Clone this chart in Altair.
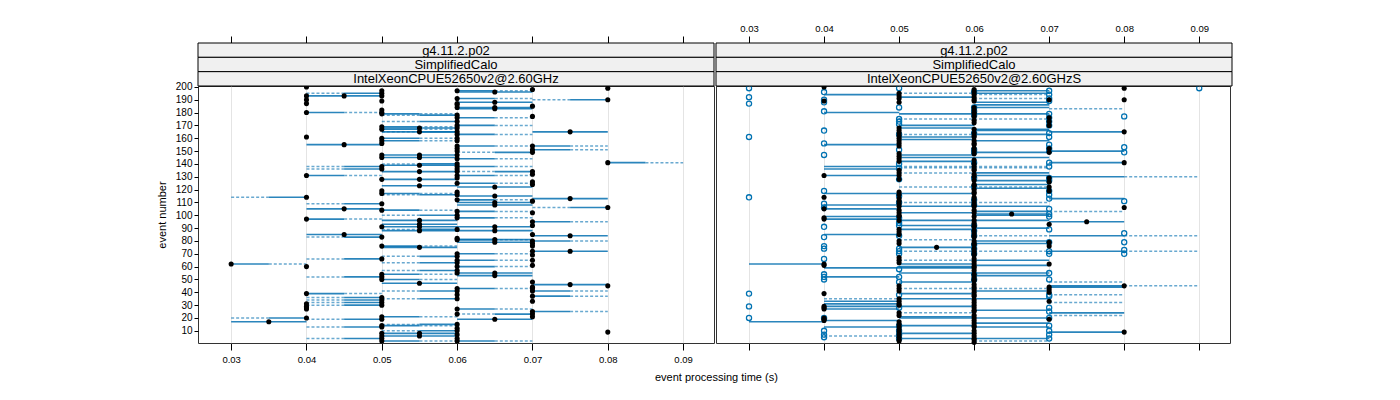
import altair as alt
import pandas as pd

FONT = "Liberation Sans"
X_TICKS = [0.03, 0.04, 0.05, 0.06, 0.07, 0.08, 0.09]
Y_TICKS = [10, 20, 30, 40, 50, 60, 70, 80, 90, 100, 110, 120, 130, 140, 150, 160, 170, 180, 190, 200]
STRIPS_LEFT = ["g4.11.2.p02", "SimplifiedCalo", "IntelXeonCPUE52650v2@2.60GHz"]
STRIPS_RIGHT = ["g4.11.2.p02", "SimplifiedCalo", "IntelXeonCPUE52650v2@2.60GHzS"]

# ---- left panel: (event number, segment direction) per time column ----
# direction: R = solid half to the right then dashed, L = same to the left,
#            S = solid span centred on the point, '' = no segment
L_030 = [(62, 'R')]
L_035 = [(17, 'S')]
L_040 = [(200, ''), (193, ''), (190, ''), (187, ''), (180, 'R'), (161, ''), (131, 'R'), (114, 'L'),
         (97, 'R'), (60, ''), (39, 'R'), (31, ''), (29, ''), (28, ''), (27, ''), (20, 'L')]
L_045 = [(193, 'S'), (155, 'S'), (105, 'S'), (85, 'S')]
L_050 = [(197, ''), (195, 'L'), (193, ''), (189, ''), (182, ''), (180, ''), (179, 'R'), (169, 'R'),
         (167, 'R'), (160, 'R'), (158, 'R'), (156, ''), (147, ''), (145, ''), (138, 'L'), (136, 'L'),
         (128, ''), (119, ''), (117, 'R'), (109, 'L'), (104, 'R'), (91, ''), (83, 'L'), (76, 'R'),
         (66, 'L'), (54, 'R'), (52, 'L'), (50, 'R'), (36, 'L'), (34, 'L'), (32, 'L'), (30, 'L'),
         (21, 'R'), (19, 'L'), (14, 'R'), (13, 'L'), (8, ''), (6, ''), (4, 'L'), (2, 'R')]
L_055 = [(168, 'S'), (165, 'S'), (147, 'S'), (145, 'S'), (139, 'S'), (134, 'S'), (128, 'S'), (123, 'S'),
         (96, 'S'), (93, 'S'), (91, 'S'), (88, 'S'), (75, 'S'), (47, 'S'), (8, 'S'), (6, 'S')]
L_060 = [(197, 'R'), (191, 'R'), (187, ''), (186, ''), (184, ''), (178, 'L'), (176, 'R'), (173, 'L'),
         (170, 'R'), (168, ''), (165, 'L'), (163, 'R'), (160, ''), (158, ''), (154, 'R'), (152, ''),
         (150, ''), (147, ''), (144, 'R'), (140, 'L'), (138, 'R'), (136, ''), (134, ''), (131, 'R'),
         (129, ''), (125, 'R'), (118, ''), (116, 'L'), (112, 'R'), (103, 'R'), (100, 'L'), (98, 'R'),
         (89, 'L'), (82, ''), (81, 'R'), (70, 'R'), (68, 'L'), (65, 'R'), (63, 'L'), (60, 'R'),
         (57, 'L'), (55, ''), (43, 'R'), (41, 'L'), (38, ''), (35, 'L'), (27, 'R'), (23, ''),
         (15, 'L'), (12, ''), (10, 'L'), (7, ''), (4, ''), (2, 'R')]
L_065 = [(196, 'S'), (188, 'S'), (184, 'S'), (183, 'S'), (122, 'S'), (115, 'S'), (110, 'S'), (108, 'S'),
         (91, 'S'), (88, 'S'), (81, 'S'), (79, 'S'), (55, 'S'), (53, 'S'), (19, 'S')]
L_070 = [(198, ''), (185, ''), (177, ''), (154, 'R'), (151, 'R'), (149, 'L'), (134, 'L'), (132, ''),
         (126, ''), (124, ''), (111, ''), (102, ''), (95, 'R'), (92, ''), (85, ''), (80, 'R'),
         (78, ''), (76, ''), (72, ''), (69, ''), (65, ''), (61, ''), (48, ''), (44, ''), (43, ''),
         (41, 'R'), (37, 'R'), (33, ''), (25, 'R'), (23, 'L'), (21, '')]
L_075 = [(165, 'S'), (113, 'S'), (84, 'S'), (72, 'S'), (46, 'S')]
L_080 = [(199, ''), (190, 'L'), (141, 'R'), (106, 'L'), (45, ''), (9, '')]
L_TIMES = [0.03, 0.035, 0.04, 0.045, 0.05, 0.055, 0.06, 0.065, 0.07, 0.075, 0.08]
L_COLUMNS = [L_030, L_035, L_040, L_045, L_050, L_055, L_060, L_065, L_070, L_075, L_080]

# ---- right panel: black filled points, blue open points, segments ----
R_BLACK_040 = [200, 189, 131, 114, 105, 98, 97, 62, 61, 39, 29, 28, 27, 20, 19, 18]
R_BLACK_050 = [195, 193, 191, 188, 168, 166, 164, 162, 160, 158, 156, 154, 148, 146, 144, 142, 135,
               133, 131, 128, 118, 116, 113, 111, 109, 107, 104, 102, 100, 99, 96, 89, 87, 85, 80, 78,
               67, 65, 63, 45, 43, 41, 35, 33, 31, 30, 24, 22, 17, 15, 13, 11, 9, 7, 5, 3, 2]
R_BLACK_055 = [75]
R_BLACK_060 = [198, 196, 194, 192, 190, 189, 184, 182, 180, 179, 177, 174, 172, 167, 164, 162, 161,
               158, 156, 155, 152, 150, 148, 143, 140, 138, 136, 135, 132, 130, 127, 124, 123, 120,
               118, 117, 114, 112, 110, 108, 107, 104, 102, 99, 96, 94, 92, 91, 88, 86, 84, 83, 80,
               78, 77, 74, 72, 70, 69, 66, 64, 62, 60, 59, 57, 54, 52, 50, 49, 46, 44, 42, 40, 38,
               37, 34, 32, 30, 28, 26, 25, 22, 20, 18, 16, 14, 13, 10, 8, 6, 4, 3, 1]
R_BLACK_065 = [101]
R_BLACK_070 = [190, 176, 173, 170, 152, 149, 129, 126, 122, 119, 93, 79, 76, 62, 44, 42, 40, 33, 19]
R_BLACK_075 = [95]
R_BLACK_080 = [199, 190, 165, 141, 106, 45, 9]
R_BLACK_TIMES = [0.04, 0.05, 0.055, 0.06, 0.065, 0.07, 0.075, 0.08]
R_BLACK_COLUMNS = [R_BLACK_040, R_BLACK_050, R_BLACK_055, R_BLACK_060, R_BLACK_065, R_BLACK_070,
                   R_BLACK_075, R_BLACK_080]

R_OPEN_030 = [199, 192, 187, 161, 114, 39, 29, 20]
R_OPEN_040 = [196, 190, 188, 181, 166, 156, 147, 119, 109, 106, 91, 83, 76, 74, 66, 54, 52, 50, 20,
              10, 7, 5]
R_OPEN_050 = [199, 184, 175, 173, 171, 163, 151, 140, 137, 128, 115, 110, 98, 94, 92, 84, 74, 72, 70,
              58, 52, 48, 38, 28, 14, 10, 7, 4]
R_OPEN_060 = [196, 184, 181, 178, 164, 151, 149, 141, 129, 122, 112, 108, 92, 88, 84, 77, 74, 70, 54, 50]
R_OPEN_070 = [197, 194, 191, 189, 179, 176, 173, 170, 164, 161, 155, 152, 150, 141, 138, 129, 127, 119,
              116, 113, 105, 101, 99, 89, 79, 72, 70, 55, 50, 38, 37, 28, 25, 20, 14, 10, 7, 4]
R_OPEN_080 = [177, 153, 149, 111, 86, 79, 73, 70]
R_OPEN_090 = [199]
R_OPEN_TIMES = [0.03, 0.04, 0.05, 0.06, 0.07, 0.08, 0.09]
R_OPEN_COLUMNS = [R_OPEN_030, R_OPEN_040, R_OPEN_050, R_OPEN_060, R_OPEN_070, R_OPEN_080, R_OPEN_090]

R_SEG_030_040_SOLID = [62, 17]
R_SEG_040_050_SOLID = [194, 180, 155, 138, 136, 131, 117, 108, 105, 99, 97, 85, 59, 52, 33, 31, 29,
                       27, 18, 13]
R_SEG_040_050_DASHED = [35, 6]
R_SEG_050_060_SOLID = [192, 179, 170, 168, 161, 159, 147, 145, 142, 117, 107, 102, 96, 92, 89, 75, 62,
                       60, 59, 55, 48, 39, 35, 29, 21, 20, 14, 8, 4]
R_SEG_050_060_DASHED = [195, 175, 163, 138, 137, 133, 122, 110, 81, 72, 65, 43, 24]
R_SEG_060_070_SOLID = [197, 195, 188, 186, 184, 179, 167, 166, 163, 158, 149, 145, 133, 131, 127, 124,
                       121, 107, 103, 101, 100, 96, 90, 80, 78, 65, 61, 55, 53, 41, 35, 26, 20, 16, 13, 4]
R_SEG_060_070_DASHED = [194, 191, 175, 138, 137, 122, 110, 84, 72, 43, 2]
R_SEG_070_080_SOLID = [165, 150, 141, 130, 113, 95, 84, 72, 45, 44, 24, 9]
R_SEG_070_080_DASHED = [183, 103, 48, 38, 32, 22]
R_SEG_080_090_DASHED = [130, 84, 72, 45]
R_SEG_GROUPS = [
    (0.03, 0.04, "solid", R_SEG_030_040_SOLID),
    (0.04, 0.05, "solid", R_SEG_040_050_SOLID),
    (0.04, 0.05, "dashed", R_SEG_040_050_DASHED),
    (0.05, 0.06, "solid", R_SEG_050_060_SOLID),
    (0.05, 0.06, "dashed", R_SEG_050_060_DASHED),
    (0.06, 0.07, "solid", R_SEG_060_070_SOLID),
    (0.06, 0.07, "dashed", R_SEG_060_070_DASHED),
    (0.07, 0.08, "solid", R_SEG_070_080_SOLID),
    (0.07, 0.08, "dashed", R_SEG_070_080_DASHED),
    (0.08, 0.09, "dashed", R_SEG_080_090_DASHED),
]

# ---------------- build tables ----------------
HALF = 0.005
left_pts, left_segs = [], []
for t, col in zip(L_TIMES, L_COLUMNS):
    for ev, d in col:
        left_pts.append({"event": ev, "time": t})
        if d == "R":
            left_segs.append({"event": ev, "x0": t, "x1": t + HALF, "style": "solid"})
            left_segs.append({"event": ev, "x0": t + HALF, "x1": t + 2 * HALF, "style": "dashed"})
        elif d == "L":
            left_segs.append({"event": ev, "x0": t - HALF, "x1": t, "style": "solid"})
            left_segs.append({"event": ev, "x0": t - 2 * HALF, "x1": t - HALF, "style": "dashed"})
        elif d == "S":
            left_segs.append({"event": ev, "x0": t - HALF, "x1": t + HALF, "style": "solid"})
left_pts = pd.DataFrame(left_pts)
left_segs = pd.DataFrame(left_segs)

right_black = pd.DataFrame([{"event": ev, "time": t}
                            for t, col in zip(R_BLACK_TIMES, R_BLACK_COLUMNS) for ev in col])
right_open = pd.DataFrame([{"event": ev, "time": t}
                           for t, col in zip(R_OPEN_TIMES, R_OPEN_COLUMNS) for ev in col])
right_segs = pd.DataFrame([{"event": ev, "x0": lo, "x1": hi, "style": st}
                           for lo, hi, st, evs in R_SEG_GROUPS for ev in evs])

# ---------------- chart ----------------
W, H = 516, 257
STRIP_H = 14.33
XSCALE = alt.Scale(domain=[0.0256, 0.0941], nice=False, zero=False)
YSCALE = alt.Scale(domain=[0.5, 200.7], nice=False, zero=False)
LINE_BLUE = "#0570b0"

Y_AXIS = alt.Axis(values=Y_TICKS, grid=False, domain=False, tickSize=4, tickColor="#000000",
                  labelFont=FONT, labelFontSize=10, labelColor="#000000", labelPadding=2,
                  title="event number", titleFont=FONT, titleFontSize=11, titleFontWeight="normal",
                  titleColor="#000000", titlePadding=8)


def x_axis(orient, labels, grid):
    kw = dict(orient=orient, values=X_TICKS, format=".2f", grid=grid, gridColor="#e4e4e4",
              gridWidth=1, domain=False, tickSize=7, tickColor="#000000", tickWidth=1,
              labelFont=FONT, labelFontSize=9.5, labelColor="#000000" if labels else "transparent",
              labelPadding=3 if orient == "top" else 4, title=None)
    if orient == "top":
        kw["offset"] = 3 * STRIP_H
    return alt.Axis(**kw)


def strip_layers(labels):
    out = []
    for i, lab in enumerate(labels):
        top = -(3 - i) * STRIP_H
        d = pd.DataFrame({"label": [lab]})
        out.append(alt.Chart(d).mark_rect(fill="#f0f0f0", stroke="#000000", strokeWidth=1, clip=False)
                   .encode(x=alt.value(0), x2=alt.value(W), y=alt.value(top), y2=alt.value(top + STRIP_H)))
        out.append(alt.Chart(d).mark_text(font=FONT, fontSize=13, color="#000000", align="center",
                                          baseline="middle", clip=False)
                   .encode(x=alt.value(W / 2), y=alt.value(top + STRIP_H / 2 + 0.5), text="label:N"))
    return out


def seg_layer(df, style, xaxis, yaxis):
    if style == "solid":
        mk = alt.Chart(df).transform_filter(alt.datum.style == "solid").mark_rule(
            color=LINE_BLUE, strokeWidth=1.6, opacity=0.85)
    else:
        mk = alt.Chart(df).transform_filter(alt.datum.style == "dashed").mark_rule(
            color=LINE_BLUE, strokeWidth=1.5, opacity=0.6, strokeDash=[3, 2])
    return mk.encode(x=alt.X("x0:Q", scale=XSCALE, axis=xaxis),
                     x2="x1:Q",
                     y=alt.Y("event:Q", scale=YSCALE, axis=yaxis))


def black_layer(df, xaxis, yaxis):
    return alt.Chart(df).mark_circle(size=26, color="#000000", opacity=1).encode(
        x=alt.X("time:Q", scale=XSCALE, axis=xaxis),
        y=alt.Y("event:Q", scale=YSCALE, axis=yaxis))


def open_layer(df):
    return alt.Chart(df).mark_point(shape="circle", filled=False, size=26, color="#0072b2",
                                    strokeWidth=1.3, opacity=1).encode(
        x=alt.X("time:Q", scale=XSCALE, axis=None),
        y=alt.Y("event:Q", scale=YSCALE, axis=None))


left = alt.layer(
    seg_layer(left_segs, "dashed", x_axis("bottom", True, True), Y_AXIS),
    seg_layer(left_segs, "solid", None, Y_AXIS),
    black_layer(left_pts, x_axis("top", False, False), Y_AXIS),
    *strip_layers(STRIPS_LEFT),
).resolve_axis(x="independent", y="shared").properties(width=W, height=H)

right = alt.layer(
    seg_layer(right_segs, "dashed", x_axis("bottom", False, True), None),
    seg_layer(right_segs, "solid", None, None),
    open_layer(right_open),
    black_layer(right_black, x_axis("top", True, False), None),
    *strip_layers(STRIPS_RIGHT),
).resolve_axis(x="independent").properties(width=W - 2, height=H)

chart = alt.hconcat(left, right, spacing=0).properties(
    title=alt.TitleParams("event processing time (s)", orient="bottom", anchor="middle",
                          font=FONT, fontSize=11, fontWeight="normal", color="#000000",
                          offset=8, dx=22),
    padding={"left": 147, "top": 14, "right": 5, "bottom": 5},
).configure_view(stroke="#333333", strokeWidth=1)

chart.save("out.html", embed_options={"renderer": "svg", "actions": False})
